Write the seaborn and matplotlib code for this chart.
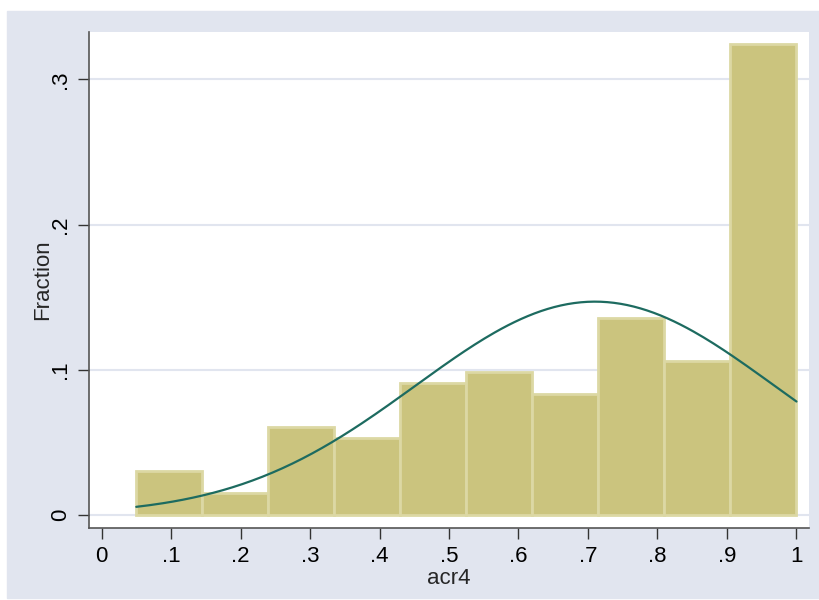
import numpy as np
import pandas as pd
import matplotlib
matplotlib.use('Agg')
import matplotlib.pyplot as plt
import seaborn as sns

# datos
bin_edges = [0.05, 0.145, 0.24, 0.335, 0.43, 0.525, 0.62, 0.715, 0.81, 0.905, 1.0]
fractions = [0.0303, 0.0152, 0.0606, 0.0530, 0.0909, 0.0985, 0.0833, 0.1357, 0.1058, 0.3240]
x_ticks = [0, 0.1, 0.2, 0.3, 0.4, 0.5, 0.6, 0.7, 0.8, 0.9, 1.0]
x_tick_labels = ['0', '.1', '.2', '.3', '.4', '.5', '.6', '.7', '.8', '.9', '1']
y_ticks = [0, 0.1, 0.2, 0.3]
y_tick_labels = ['0', '.1', '.2', '.3']
# curva normal superpuesta (media y desv. estimadas)
curve_mean = 0.71
curve_sd = 0.258

bg = '#e1e5ef'
bar_color = '#cbc47e'
edge_color = '#dcd8a4'
line_color = '#1d6b60'

sns.set_style('white')
plt.rcParams['font.family'] = ['Liberation Sans', 'DejaVu Sans']

centers = [(a + b) / 2 for a, b in zip(bin_edges[:-1], bin_edges[1:])]
hist_df = pd.DataFrame({'acr4': centers, 'w': fractions})

width = bin_edges[1] - bin_edges[0]
xs = np.linspace(bin_edges[0], bin_edges[-1], 200)
ys = width * np.exp(-0.5 * ((xs - curve_mean) / curve_sd) ** 2) / (curve_sd * np.sqrt(2 * np.pi))
curve_df = pd.DataFrame({'x': xs, 'y': ys})

fig = plt.figure(figsize=(8.2, 6), dpi=100, facecolor='white')
fig.patches.append(plt.Rectangle((7 / 820, 0.003), 1, 1 - 11 / 600 - 0.003,
                                 transform=fig.transFigure, color=bg, zorder=-10))
ax = fig.add_axes([89 / 820, 72 / 600, 720 / 820, 496 / 600])
ax.set_facecolor('white')

for yv in y_ticks:
    ax.axhline(yv, color=bg, lw=1.5, zorder=0)

sns.histplot(data=hist_df, x='acr4', weights='w', bins=bin_edges, stat='count',
             color=bar_color, edgecolor=edge_color, linewidth=2, alpha=1, ax=ax, zorder=2)
sns.lineplot(data=curve_df, x='x', y='y', color=line_color, lw=1.6, ax=ax, zorder=3)

ax.set_xlim(-0.018, 1.018)
ax.set_ylim(-0.009, 0.3326)
ax.set_xticks(x_ticks)
ax.set_xticklabels(x_tick_labels)
ax.set_yticks(y_ticks)
ax.set_yticklabels(y_tick_labels, rotation=90, va='center')
ax.tick_params(axis='both', direction='out', length=8, width=1, color='#333333',
               labelsize=16, labelcolor='black', left=True, bottom=True, pad=5)
ax.set_xlabel('acr4', fontsize=16, labelpad=1)
ax.set_ylabel('Fraction', fontsize=16, labelpad=-2)

for side in ['top', 'right']:
    ax.spines[side].set_visible(False)
for side in ['left', 'bottom']:
    ax.spines[side].set_color('#555555')
    ax.spines[side].set_linewidth(1.2)

fig.savefig('out.png', dpi=100, facecolor=fig.get_facecolor())
